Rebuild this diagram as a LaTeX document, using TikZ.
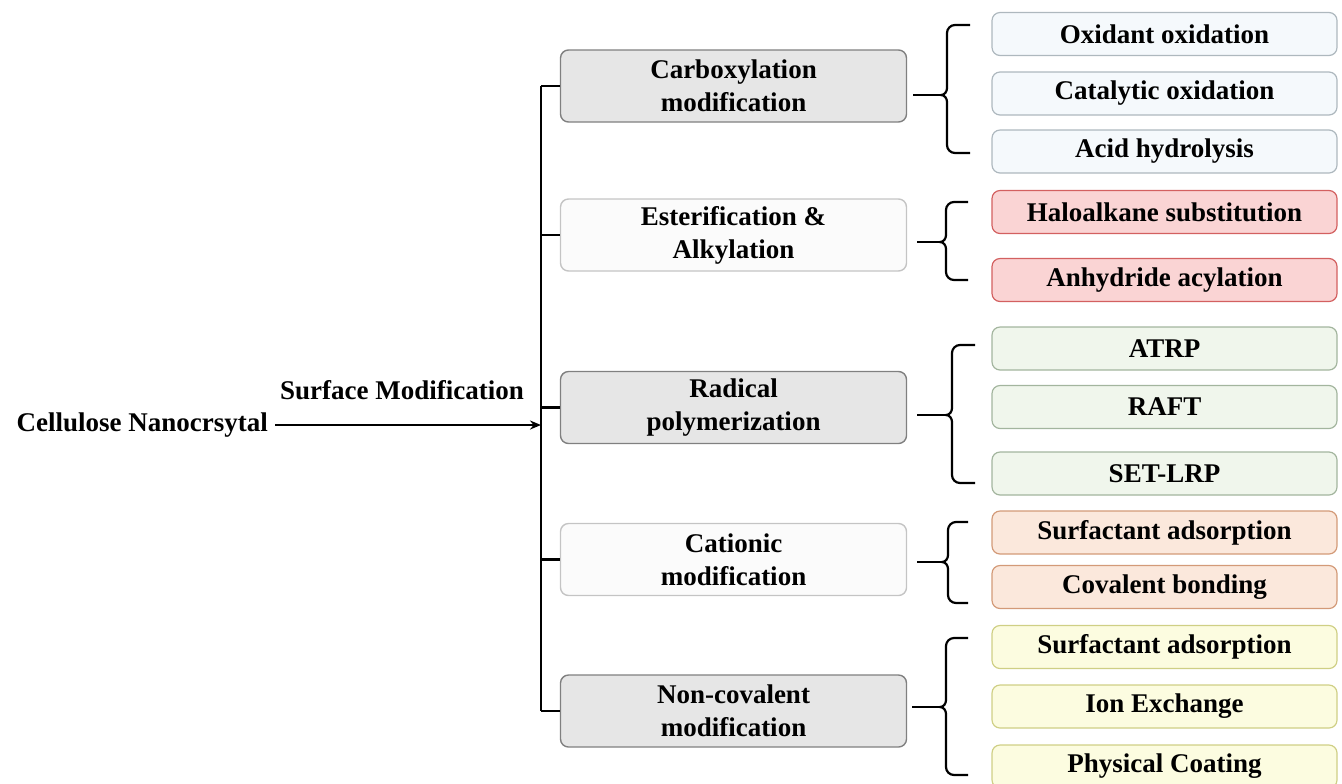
\documentclass[tikz,border=0pt]{standalone}
\usepackage{fontspec}
\setmainfont{Liberation Serif}
\usetikzlibrary{arrows.meta,calc}
\definecolor{gfill}{HTML}{E6E6E6}
\definecolor{gdraw}{HTML}{808080}
\definecolor{lfill}{HTML}{FBFBFB}
\definecolor{ldraw}{HTML}{C4C4C4}
\definecolor{bfill}{HTML}{F5F9FC}
\definecolor{bdraw}{HTML}{AEB8BE}
\definecolor{rfill}{HTML}{FAD4D4}
\definecolor{rdraw}{HTML}{D36060}
\definecolor{grfill}{HTML}{F0F6EC}
\definecolor{grdraw}{HTML}{A3B59E}
\definecolor{ofill}{HTML}{FBE8DC}
\definecolor{odraw}{HTML}{D39A78}
\definecolor{yfill}{HTML}{FCFCE0}
\definecolor{ydraw}{HTML}{CFCF85}
\newcommand\mybrace[5]{%
  \draw[line] (#5,#2) -- ({#1+8},#2) to[out=180,in=90] (#1,{#2+8}) -- (#1,{#3-7})
    to[out=-90,in=0] ({#1-6},#3) to[out=0,in=90] (#1,{#3+7}) -- (#1,{#4-8})
    to[out=-90,in=180] ({#1+8},#4) -- (#5,#4);}
\begin{document}
\begin{tikzpicture}[x=0.5pt,y=-0.5pt,
  font=\fontsize{13.5}{16.5}\selectfont\bfseries,
  line/.style={line width=1.1pt},
  midbox/.style={rounded corners=4pt, minimum width=173pt, minimum height=36pt,
    inner sep=0pt, align=center, line width=0.7pt},
  graybox/.style={midbox, fill=gfill, draw=gdraw},
  lightbox/.style={midbox, fill=lfill, draw=ldraw},
  rbox/.style={rounded corners=4pt, minimum width=172.5pt, minimum height=21.5pt,
    inner sep=0pt, line width=0.6pt},
  bluebox/.style={rbox, fill=bfill, draw=bdraw},
  redbox/.style={rbox, fill=rfill, draw=rdraw},
  greenbox/.style={rbox, fill=grfill, draw=grdraw},
  orangebox/.style={rbox, fill=ofill, draw=odraw},
  yellowbox/.style={rbox, fill=yfill, draw=ydraw}]
\useasboundingbox (0,0) rectangle (1342,783);
\clip (0,0) rectangle (1342,783);

% left part
\node (cnc) [anchor=east] at (275,425) {Cellulose Nanocrsytal};
\node (sm) at (402,390) {Surface Modification};
\coordinate (trunk) at (541,0);

% middle column
\node (carb) [graybox] at (733.5,86) {Carboxylation\\modification};
\node (ester) [lightbox] at (733.5,235) {Esterification \&\\Alkylation};
\node (rad) [graybox] at (733.5,407.5) {Radical\\polymerization};
\node (cat) [lightbox] at (733.5,559.5) {Cationic\\modification};
\node (nonc) [graybox] at (733.5,711) {Non-covalent\\modification};

% trunk and ticks
\draw[line] (carb.west -| trunk) -- (nonc.west -| trunk);
\foreach \n in {carb,ester,rad,cat,nonc}
  \draw[line] (\n.west) -- (\n.west -| trunk);
\draw[line,-{Stealth[length=5.5pt,width=4.5pt]}] (cnc.east) -- (cnc.east -| trunk);

% right column
\node (b1) [bluebox] at (1164.5,34) {Oxidant oxidation};
\node (b2) [bluebox] at (1164.5,93.5) {Catalytic oxidation};
\node (b3) [bluebox] at (1164.5,151.5) {Acid hydrolysis};
\node (r1) [redbox] at (1164.5,212) {Haloalkane substitution};
\node (r2) [redbox] at (1164.5,280) {Anhydride acylation};
\node (g1) [greenbox] at (1164.5,348.5) {ATRP};
\node (g2) [greenbox] at (1164.5,407) {RAFT};
\node (g3) [greenbox] at (1164.5,473.5) {SET-LRP};
\node (o1) [orangebox] at (1164.5,532.5) {Surfactant adsorption};
\node (o2) [orangebox] at (1164.5,587) {Covalent bonding};
\node (y1) [yellowbox] at (1164.5,647) {Surfactant adsorption};
\node (y2) [yellowbox] at (1164.5,706.5) {Ion Exchange};
\node (y3) [yellowbox] at (1164.5,766.5) {Physical Coating};

% braces
\mybrace{947}{25}{95}{153}{970}
\mybrace{946}{202}{242}{280}{968}
\mybrace{952}{345}{415}{483}{975}
\mybrace{948}{522}{562}{603}{968}
\mybrace{946}{638}{707}{775}{968}

% stubs from middle boxes to brace tips
\coordinate (t1) at (941,95);
\coordinate (t2) at (940,242);
\coordinate (t3) at (946,415);
\coordinate (t4) at (942,562);
\coordinate (t5) at (940,707);
\draw[line] ($(carb.east |- t1)+(6,0)$) -- (t1);
\draw[line] ($(ester.east |- t2)+(10,0)$) -- (t2);
\draw[line] ($(rad.east |- t3)+(10,0)$) -- (t3);
\draw[line] ($(cat.east |- t4)+(10,0)$) -- (t4);
\draw[line] ($(nonc.east |- t5)+(5,0)$) -- (t5);
\end{tikzpicture}
\end{document}
